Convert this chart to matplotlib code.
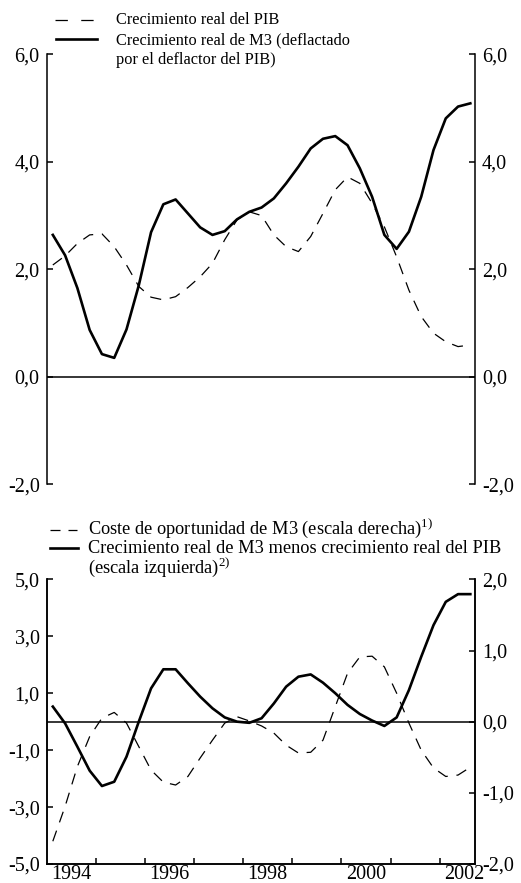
import numpy as np
import pandas as pd
import matplotlib
matplotlib.use("Agg")
import matplotlib.pyplot as plt
from matplotlib.lines import Line2D

plt.rcParams['font.family'] = ['Liberation Serif', 'DejaVu Serif']
plt.rcParams['mathtext.fontset'] = 'custom'
plt.rcParams['mathtext.rm'] = 'Liberation Serif'

# Quarterly data, 1994 Q1 - 2002 Q3
quarters = pd.period_range('1994Q1', '2002Q3', freq='Q')
x = np.array([p.year + (p.quarter - 0.5) / 4 for p in quarters])

# Top panel
pib_real = [2.08, 2.25, 2.48, 2.64, 2.66, 2.42, 2.08, 1.68, 1.48, 1.43,
            1.49, 1.66, 1.86, 2.11, 2.55, 2.92, 3.07, 3.00, 2.64, 2.42,
            2.33, 2.61, 3.04, 3.48, 3.72, 3.60, 3.23, 2.79, 2.23, 1.61,
            1.12, 0.81, 0.65, 0.56, 0.59]
m3_real = [2.64, 2.26, 1.65, 0.87, 0.42, 0.35, 0.88, 1.70, 2.69, 3.21,
           3.30, 3.04, 2.78, 2.64, 2.71, 2.93, 3.07, 3.15, 3.32, 3.60,
           3.91, 4.25, 4.43, 4.48, 4.31, 3.88, 3.35, 2.64, 2.38, 2.70,
           3.35, 4.22, 4.81, 5.03, 5.09]

# Bottom panel
m3_menos_pib = [0.53, -0.06, -0.88, -1.72, -2.26, -2.11, -1.23, 0.00, 1.17, 1.84,
                1.84, 1.35, 0.88, 0.47, 0.15, 0.00, -0.04, 0.12, 0.64, 1.23,
                1.58, 1.66, 1.37, 1.00, 0.59, 0.27, 0.04, -0.15, 0.15, 1.11,
                2.28, 3.39, 4.21, 4.48, 4.48]
coste_oport = [-1.68, -1.19, -0.63, -0.21, 0.05, 0.13, -0.02, -0.35, -0.68, -0.85,
               -0.89, -0.77, -0.51, -0.26, -0.02, 0.07, 0.01, -0.06, -0.16, -0.33,
               -0.44, -0.43, -0.26, 0.21, 0.68, 0.91, 0.92, 0.77, 0.40, -0.02,
               -0.40, -0.65, -0.77, -0.75, -0.64]

top_ticks = [-2, 0, 2, 4, 6]
bot_left_ticks = [-5, -3, -1, 1, 3, 5]
bot_right_ticks = [-2, -1, 0, 1, 2]
year_ticks = list(range(1995, 2003))
year_labels = ['1994', '1996', '1998', '2000', '2002']


def fmt(v):
    return f"{v:.1f}".replace('.', ',')


W, H = 521, 883
fig = plt.figure(figsize=(W / 100, H / 100), dpi=100)

def px(xp, yp):
    return xp / W, 1 - yp / H

tick_size = 14.5
xlim = (1994.0, 2002.72)

# ---- top chart
ax1 = fig.add_axes([0.0896, 0.4518, 0.8221, 0.4865])
ax1.plot(x, pib_real, color='black', lw=0.9, dashes=(9, 7))
ax1.plot(x, m3_real, color='black', lw=1.9)
ax1.axhline(0, color='black', lw=1.1)
ax1.set_xlim(*xlim)
ax1.set_ylim(-2, 6)
ax1.set_yticks(top_ticks)
ax1.set_yticklabels([fmt(v) for v in top_ticks])
ax1.set_xticks([])
ax1.spines['top'].set_visible(False)
ax1.spines['bottom'].set_visible(False)
for s in ['left', 'right']:
    ax1.spines[s].set_linewidth(1.1)
ax1.tick_params(axis='y', direction='in', length=4, width=1.1, pad=5,
                left=True, right=True, labelleft=True, labelright=True,
                labelsize=tick_size)

# ---- bottom chart
ax2 = fig.add_axes([0.0896, 0.0215, 0.8221, 0.3224])
ax3 = ax2.twinx()
ax3.plot(x, coste_oport, color='black', lw=0.9, dashes=(9, 7))
ax2.plot(x, m3_menos_pib, color='black', lw=1.9)
ax2.axhline(0, color='black', lw=1.1)
ax2.set_xlim(*xlim)
ax2.set_ylim(-5, 5)
ax3.set_ylim(-2, 2)
ax2.set_yticks(bot_left_ticks)
ax2.set_yticklabels([fmt(v) for v in bot_left_ticks])
ax3.set_yticks(bot_right_ticks)
ax3.set_yticklabels([fmt(v) for v in bot_right_ticks])
ax2.set_xticks(year_ticks)
ax2.set_xticklabels([])
ax2.set_xticks([int(l) + 0.5 for l in year_labels], minor=True)
ax2.set_xticklabels(year_labels, minor=True)
for a in (ax2, ax3):
    a.spines['top'].set_visible(False)
    for s in ['left', 'right', 'bottom']:
        a.spines[s].set_linewidth(1.1)
ax2.tick_params(axis='y', direction='in', length=4, width=1.1, pad=5,
                right=False, labelsize=tick_size)
ax3.tick_params(axis='y', direction='in', length=4, width=1.1, pad=5,
                labelsize=tick_size)
ax2.tick_params(axis='x', which='major', direction='in', length=4, width=1.1)
ax2.tick_params(axis='x', which='minor', length=0, pad=0.5, labelsize=tick_size)

# ---- legends
def legend_line(x0, x1, y, **kw):
    a, b = px(x0, y)
    c, _ = px(x1, y)
    fig.add_artist(Line2D([a, c], [b, b], transform=fig.transFigure,
                          color='black', **kw))

def legend_text(xp, yp, s, size):
    a, b = px(xp, yp)
    fig.text(a, b, s, fontsize=size, va='center', ha='left')

legend_line(55, 94, 20, lw=0.9, dashes=(9.9, 10.7))
legend_line(56, 97, 38.5, lw=1.9)
legend_text(116.5, 20, 'Crecimiento real del PIB', 11.8)
legend_text(116.5, 40, 'Crecimiento real de M3 (deflactado', 11.8)
legend_text(116.5, 60, 'por el deflactor del PIB)', 11.8)

legend_line(50, 77, 530, lw=0.9, dashes=(8, 6.4))
legend_line(50, 78, 548, lw=1.9)
legend_text(88, 528.5, r'Coste de oportunidad de M3 (escala derecha)$^{1)}$', 13.2)
legend_text(88, 548.5, 'Crecimiento real de M3 menos crecimiento real del PIB', 13.2)
legend_text(88, 567, r'(escala izquierda)$^{2)}$', 13.2)

fig.savefig('out.png', dpi=100)
